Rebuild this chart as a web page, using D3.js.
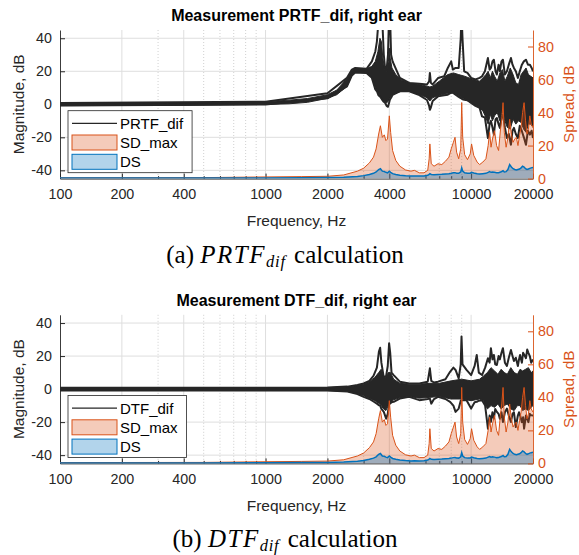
<!DOCTYPE html>
<html>
<head>
<meta charset="utf-8">
<script src="https://cdn.jsdelivr.net/npm/d3@7"></script>
<style>
  body { margin: 0; background: #fff; }
  svg { display: block; font-family: "Liberation Sans", Arial, Helvetica, sans-serif; }
</style>
</head>
<body>
<svg id="chart" width="579" height="555"></svg>
<script>
// axis ticks
const xTicks = [100, 200, 400, 1000, 2000, 4000, 10000, 20000]
const xMinor = [300, 500, 600, 700, 800, 900, 3000, 5000, 6000, 7000, 8000, 9000]
const yTicks = [-40, -20, 0, 20, 40]
const spreadTicks = [0, 20, 40, 60, 80]

// dense part of the black curve bundle, [freq Hz, upper dB, lower dB]
const prtfCore = [
  [100, 0.8, -0.8], [400, 1.0, -0.6], [1000, 1.6, -0.1], [1300, 2.5, 0.3], [1600, 3.5, 1.2],
  [2000, 5.8, 3.6], [2220, 8.6, 5.8], [2490, 15.5, 10.9], [2630, 20.5, 17.5], [2730, 21.8, 19.3],
  [3100, 21.5, 19], [3290, 23, 16], [3420, 26, 10], [3520, 32, 7], [3600, 40, 5],
  [3660, 38, 3.5], [3720, 28, 2.5], [3800, 21, 1.5], [3880, 20, 0.8], [3960, 26, 2],
  [4000, 34, 3], [4040, 28, 4], [4120, 22, 5.5], [4300, 18, 7], [4600, 14.5, 7.9],
  [5000, 12.9, 7.9], [5600, 12, 6], [6100, 11, 4], [6300, 10.5, 2], [6500, 11, 4],
  [7000, 14, 5.5], [7700, 18, 6.5], [8200, 19, 7], [8700, 18, 5], [9300, 17, 3],
  [10000, 15.5, 1], [11000, 14, -2], [11400, 16, -4], [11800, 18, -8], [12100, 20, -12],
  [12400, 16, -6], [12700, 20, -10], [13000, 17, -7], [13400, 14, -5], [13800, 19, -10],
  [14200, 21, -4], [14600, 14, -10], [15000, 17, -14], [15500, 22, -15], [16000, 18, -9],
  [16500, 13, -12], [17000, 12, -10], [17500, 18, -11], [18000, 20, -15], [18500, 22, -17],
  [19000, 18, -12], [19500, 17, -12], [20000, 16, -14]
]
// outermost curves of the bundle, [freq Hz, max dB, min dB]
const prtfEdge = [
  [100, 0.8, -0.8], [1000, 1.6, -0.1], [2000, 6.7, 3.6], [2490, 16, 10.9], [2630, 21, 17.5],
  [2730, 22, 19.3], [3100, 21.5, 19], [3290, 26, 16], [3420, 32, 9], [3480, 38, 7.9],
  [3540, 50, 5.5], [3620, 55, 4.5], [3700, 50, 2.6], [3760, 30, 1.5], [3820, 20.8, 0.8],
  [3880, 20.8, -1], [3940, 30, -1.5], [3990, 55, 1], [4030, 55, 3], [4080, 30, 4],
  [4150, 26, 5.8], [4500, 16, 7.9], [5000, 12.9, 7.9], [5600, 12.5, 5.6], [6100, 12, 2.6],
  [6250, 14, -1], [6300, 19, -3.3], [6370, 13, -2], [6500, 12, 2], [6900, 15.9, 4.8],
  [7400, 17, 5.5], [7700, 22, 5.8], [8000, 26, 7], [8150, 21, 7], [8400, 22, 5.8],
  [8700, 22, 4.5], [8900, 40, 3.8], [8980, 55, 3.5], [9080, 40, 3], [9250, 20, 2.8],
  [9600, 19, 2.5], [10000, 16, 0.8], [10500, 15, -1], [11000, 16, -2.2], [11300, 17, -7.3],
  [11670, 20, -8], [12070, 28, -20.4], [12300, 21, -12], [12480, 22, -10], [12700, 26, -14],
  [12900, 27, -18.4], [13150, 20, -9], [13340, 18, -8.3], [13600, 24, -12], [13800, 20, -14.3],
  [14050, 26, -8], [14280, 27, -6.3], [14600, 18, -14], [14930, 20, -20.4], [15250, 24, -18],
  [15620, 28, -24.5], [15900, 24, -16], [16150, 22, -14.3], [16500, 20, -18], [16880, 16, -20.4],
  [17250, 20, -13], [17660, 24, -16.3], [18050, 26, -20], [18480, 27, -24.5], [18900, 24, -16],
  [19320, 24, -18.4], [19700, 22, -16], [20000, 20, -20.4]
]

const dtfCore = [
  [100, 0.8, -0.8], [2000, 0.9, -0.9], [2500, 1.3, -1.4], [2800, 2.2, -2.6], [3000, 3, -4],
  [3200, 4.5, -5.5], [3400, 7, -7], [3550, 10, -8.5], [3650, 12, -10], [3750, 8, -12],
  [3850, 7, -13], [3950, 10, -10], [4050, 10, -8], [4200, 6, -6.5], [4500, 3.5, -5.2],
  [5000, 3, -4.5], [5600, 3, -5.5], [6300, 3.5, -5], [7000, 3.5, -4.5], [8000, 5, -6],
  [9000, 6, -6], [10000, 5, -7], [11000, 6, -6], [11500, 8, -7], [12000, 10, -12],
  [12500, 13, -10], [13000, 11, -11], [13500, 9, -9], [14000, 12, -12], [14500, 10, -10],
  [15000, 9, -9], [15600, 13, -12], [16200, 10, -13], [16800, 9, -10], [17300, 12, -10],
  [17800, 11, -13], [18400, 12, -12], [19000, 13, -13], [19600, 10, -11], [20000, 11, -10]
]
const dtfEdge = [
  [100, 0.8, -0.8], [2000, 0.9, -0.9], [2500, 1.5, -1.5], [2800, 2.5, -3], [3000, 3.4, -4.7],
  [3200, 5, -6], [3350, 8, -7.5], [3480, 13, -8.8], [3560, 22.7, -9.8], [3610, 25, -10],
  [3660, 16, -12], [3760, 7, -13.8], [3860, 8, -17.9], [3930, 14, -15], [3990, 27.8, -9],
  [4040, 22, -8.8], [4100, 10, -8], [4200, 8.5, -7.7], [4500, 4.5, -5.7], [5000, 3.4, -4.7],
  [5600, 3.4, -6.7], [6150, 4.5, -6], [6300, 12.6, -5.7], [6400, 5, -8.8], [6600, 4, -6],
  [6900, 4.5, -4.7], [7500, 6, -6], [7900, 10.5, -7.7], [8200, 13, -10], [8400, 11.6, -13.8],
  [8700, 6.5, -11.8], [8900, 15, -7], [8980, 31.9, -6.7], [9080, 15, -6.7], [9500, 11.6, -6.7],
  [10000, 8.5, -11.8], [10400, 14, -8], [10650, 20.7, -7.7], [10900, 10, -7], [11300, 8.5, -6.7],
  [11700, 13, -10], [12070, 18.7, -24], [12300, 16, -16], [12480, 24.8, -19.9], [12700, 18, -14],
  [12900, 20.7, -17.9], [13100, 15, -12], [13340, 14.6, -13.8], [13600, 20, -15], [13800, 18, -18],
  [14050, 22, -14], [14280, 24.8, -19.9], [14600, 16, -14], [14930, 14, -11.8], [15250, 19, -16],
  [15620, 23.7, -19.9], [15900, 20, -15], [16150, 17, -14], [16500, 19, -23], [16880, 14, -16],
  [17100, 18, -14], [17300, 20.7, -15.9], [17660, 16, -20], [17900, 22, -17], [18100, 21, -24],
  [18480, 18.7, -16], [18750, 24, -18], [19000, 22, -20], [19300, 20, -15], [19600, 16, -15.9],
  [20000, 18, -16]
]

// spread curves, [freq Hz, SD_max dB, DS dB]
const spread = [
  [100, 0.5, 0.3], [500, 0.6, 0.3], [1000, 1, 0.4], [1500, 1.2, 0.5], [2000, 1.4, 0.6],
  [2400, 2.2, 0.8], [2800, 4.5, 1.3], [3000, 6.3, 1.8], [3200, 9.5, 2.5], [3350, 13, 3.2],
  [3450, 18, 4], [3550, 27, 5.5], [3620, 32, 6], [3700, 25, 4.5], [3780, 26.5, 4.3],
  [3850, 23, 3.8], [3920, 24, 3.5], [4000, 38, 4.5], [4060, 28, 3.8], [4150, 17, 3],
  [4300, 11, 2.5], [4500, 7.5, 2], [4800, 5.2, 1.7], [5100, 4.5, 1.5], [5300, 5, 1.6],
  [5600, 3.5, 1.5], [5900, 3.5, 1.6], [6150, 5, 2], [6250, 12, 2.5], [6300, 21, 3],
  [6400, 9, 2.5], [6600, 7.5, 2.3], [6900, 9, 2.5], [7200, 8.5, 2.6], [7500, 10.5, 2.8],
  [7800, 13, 3], [8000, 18, 3.2], [8200, 22, 3.5], [8350, 25, 3.6], [8500, 16, 3.3],
  [8700, 12, 3.2], [8900, 18, 4], [9000, 46, 6.5], [9100, 25, 4.5], [9300, 14.5, 3.5],
  [9600, 11.5, 3.2], [9900, 15, 3.3], [10050, 21, 3.8], [10300, 14, 3.4], [10700, 10, 3],
  [11000, 8.5, 2.8], [11400, 10, 3], [11800, 12, 3.2], [12100, 20, 3.8], [12300, 28, 4.2],
  [12500, 19, 3.8], [12700, 24, 4], [13000, 29, 3.8], [13300, 20, 3.5], [13600, 17, 3.6],
  [13900, 30, 4], [14100, 36, 4.3], [14300, 46, 4.8], [14500, 28, 4], [14800, 19, 4.2],
  [15100, 25, 5.5], [15400, 36, 8.5], [15700, 27, 7], [16000, 22, 6], [16300, 24, 5.5],
  [16600, 25, 5.2], [16900, 20, 5.5], [17200, 26, 5.8], [17500, 31, 6.5], [17800, 40, 7.5],
  [18100, 46, 7], [18400, 35, 6], [18700, 27, 5.5], [19000, 30, 5.8], [19300, 38, 6.2],
  [19600, 33, 6.5], [20000, 31, 6.8]
]

const panels = [
  { top: 30, title: 'Measurement PRTF_dif, right ear', name: 'PRTF_dif', core: prtfCore, edge: prtfEdge,
    cap: ['(a) ', 'PRTF', 'dif', ' calculation'] },
  { top: 314.8, title: 'Measurement DTF_dif, right ear', name: 'DTF_dif', core: dtfCore, edge: dtfEdge,
    cap: ['(b) ', 'DTF', 'dif', ' calculation'] }
]

const axisColor = '#262626'
const orange = '#D95319'
const blue = '#0072BD'
const left = 60, right = 533, plotH = 148.6

const svg = d3.select('#chart')
const x = d3.scaleLog().domain([100, 20000]).range([left, right])
const str = d => String(d)

panels.forEach(function (p, i) {
  const top = p.top
  const bottom = top + plotH
  const yL = d3.scaleLinear().domain([-45, 45]).range([bottom, top])
  const yR = d3.scaleLinear().domain([0, 90]).range([bottom, top])
  const g = svg.append('g')

  svg.append('clipPath').attr('id', 'clip' + i).append('rect')
    .attr('x', left).attr('y', top).attr('width', right - left).attr('height', plotH)

  // grid
  g.append('g').selectAll('line').data(yTicks).enter().append('line')
    .attr('x1', left).attr('x2', right).attr('y1', yL).attr('y2', yL)
    .attr('stroke', '#dedede').attr('stroke-width', 1)
  g.append('g').selectAll('line').data(xTicks.slice(1, -1)).enter().append('line')
    .attr('x1', x).attr('x2', x).attr('y1', top).attr('y2', bottom)
    .attr('stroke', '#dedede').attr('stroke-width', 1)
  g.append('g').selectAll('line').data(xMinor).enter().append('line')
    .attr('x1', x).attr('x2', x).attr('y1', top).attr('y2', bottom)
    .attr('stroke', '#c4c4c4').attr('stroke-width', 0.8).attr('stroke-dasharray', '1,2')

  // axes (drawn below the data, as in the original)
  const xa = g.append('g').attr('transform', 'translate(0,' + bottom + ')')
    .call(d3.axisBottom(x).tickValues(xTicks).tickFormat(str).tickSizeInner(-5).tickSizeOuter(0).tickPadding(10))
  g.append('g').attr('transform', 'translate(0,' + bottom + ')')
    .call(d3.axisBottom(x).tickValues(xMinor).tickFormat('').tickSizeInner(-2.5).tickSizeOuter(0))
    .call(s => s.select('.domain').remove())
    .call(s => s.selectAll('line').attr('stroke', axisColor))
  const ya = g.append('g').attr('transform', 'translate(' + left + ',0)')
    .call(d3.axisLeft(yL).tickValues(yTicks).tickFormat(str).tickSizeInner(-5).tickSizeOuter(0).tickPadding(8))
  const yr = g.append('g').attr('transform', 'translate(' + right + ',0)')
    .call(d3.axisRight(yR).tickValues(spreadTicks).tickFormat(str).tickSizeInner(-5).tickSizeOuter(0).tickPadding(5))

  g.selectAll('.tick text').attr('font-size', 14.3).attr('font-family', null)
  xa.selectAll('path, line').attr('stroke', axisColor)
  xa.selectAll('text').attr('fill', axisColor)
  ya.selectAll('path, line').attr('stroke', axisColor)
  ya.selectAll('text').attr('fill', axisColor)
  yr.selectAll('path, line').attr('stroke', orange)
  yr.selectAll('text').attr('fill', orange)
  g.selectAll('.domain').attr('stroke-width', 0.9)

  // data
  const plot = svg.append('g').attr('clip-path', 'url(#clip' + i + ')')
  plot.append('path').datum(p.core)
    .attr('d', d3.area().x(d => x(d[0])).y0(d => yL(d[2])).y1(d => yL(d[1])))
    .attr('fill', axisColor).attr('stroke', axisColor).attr('stroke-width', 1)
  ;[1, 2].forEach(function (k) {
    plot.append('path').datum(p.edge)
      .attr('d', d3.line().x(d => x(d[0])).y(d => yL(d[k])))
      .attr('fill', 'none').attr('stroke', axisColor).attr('stroke-width', 2)
      .attr('stroke-linejoin', 'round')
  })

  plot.append('path').datum(spread)
    .attr('d', d3.area().x(d => x(d[0])).y0(yR(0)).y1(d => yR(d[1])))
    .attr('fill', orange).attr('fill-opacity', 0.3)
  plot.append('path').datum(spread)
    .attr('d', d3.line().x(d => x(d[0])).y(d => yR(d[1])))
    .attr('fill', 'none').attr('stroke', orange).attr('stroke-width', 1)
  plot.append('path').datum(spread)
    .attr('d', d3.area().x(d => x(d[0])).y0(yR(0)).y1(d => yR(d[2])))
    .attr('fill', blue).attr('fill-opacity', 0.35)
  plot.append('path').datum(spread)
    .attr('d', d3.line().x(d => x(d[0])).y(d => yR(d[2])))
    .attr('fill', 'none').attr('stroke', blue).attr('stroke-width', 1.5)

  // labels
  svg.append('text').attr('x', (left + right) / 2).attr('y', top - 9)
    .attr('text-anchor', 'middle').attr('font-weight', 'bold').attr('font-size', 16)
    .attr('fill', '#000').text(p.title)
  svg.append('text').attr('x', (left + right) / 2).attr('y', bottom + 47.5)
    .attr('text-anchor', 'middle').attr('font-size', 15.5).attr('fill', axisColor)
    .text('Frequency, Hz')
  svg.append('text').attr('transform', 'translate(23.5,' + (top + plotH / 2) + ') rotate(-90)')
    .attr('text-anchor', 'middle').attr('font-size', 15.5).attr('fill', axisColor)
    .text('Magnitude, dB')
  svg.append('text').attr('transform', 'translate(574,' + (top + plotH / 2) + ') rotate(-90)')
    .attr('text-anchor', 'middle').attr('font-size', 15.5).attr('fill', orange)
    .text('Spread, dB')

  // legend
  const lg = svg.append('g').attr('transform', 'translate(68,' + (top + 80.7) + ')')
  const box = lg.append('rect').attr('x', 0).attr('y', 0).attr('height', 62)
    .attr('fill', '#fff').attr('stroke', axisColor).attr('stroke-width', 0.8)
  const rows = [p.name, 'SD_max', 'DS']
  lg.append('line').attr('x1', 4).attr('x2', 49).attr('y1', 12.6).attr('y2', 12.6)
    .attr('stroke', axisColor).attr('stroke-width', 1.2)
  lg.append('rect').attr('x', 4).attr('y', 24.3).attr('width', 45).attr('height', 15)
    .attr('fill', orange).attr('fill-opacity', 0.3).attr('stroke', orange).attr('stroke-width', 1)
  lg.append('rect').attr('x', 4).attr('y', 43.6).attr('width', 45).attr('height', 15)
    .attr('fill', blue).attr('fill-opacity', 0.3).attr('stroke', blue).attr('stroke-width', 1)
  let maxW = 0
  rows.forEach(function (r, k) {
    const t = lg.append('text').attr('x', 52).attr('y', 12.6 + k * 19.3).attr('dy', '0.36em')
      .attr('font-size', 15).attr('fill', '#000').text(r)
    maxW = Math.max(maxW, t.node().getComputedTextLength())
  })
  box.attr('width', 52 + maxW + 9)

  // caption
  const cap = svg.append('text').attr('x', 285).attr('y', bottom + 84)
    .attr('text-anchor', 'middle').attr('font-family', '"Liberation Serif", "Times New Roman", serif')
    .attr('font-size', 25).attr('fill', '#000')
  cap.append('tspan').text(p.cap[0])
  cap.append('tspan').attr('font-style', 'italic').attr('letter-spacing', 1.5).text(p.cap[1])
  cap.append('tspan').attr('font-style', 'italic').attr('font-size', 16.5).attr('dy', 4)
    .attr('letter-spacing', 0.8).text(p.cap[2])
  cap.append('tspan').attr('dy', -4).attr('dx', 2).text(p.cap[3])
})
</script>
</body>
</html>
